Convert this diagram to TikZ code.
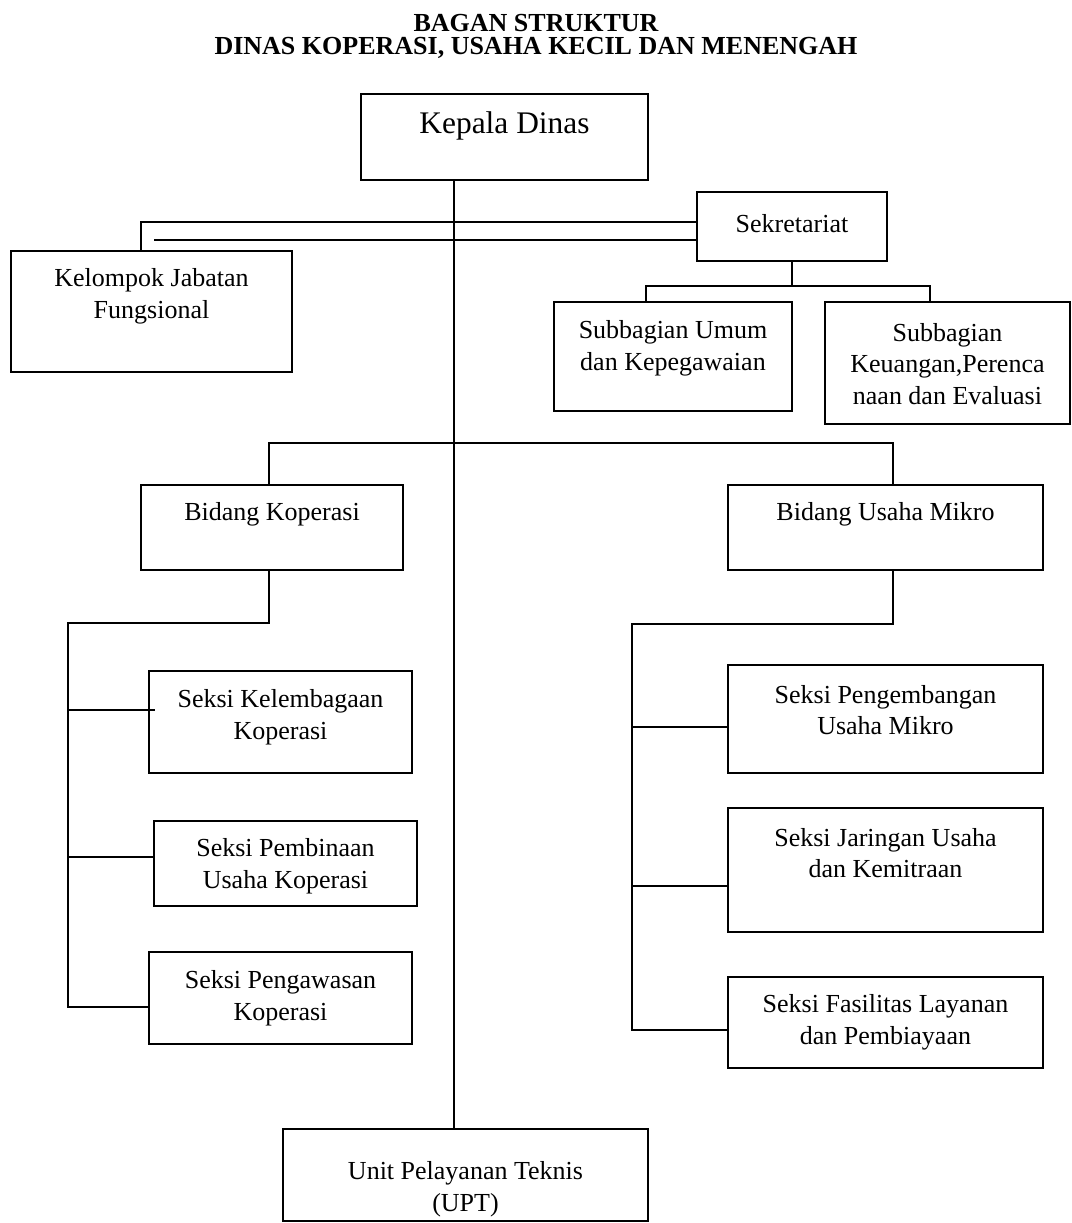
\documentclass[tikz,border=0pt]{standalone}
\usepackage{fontspec}
\setmainfont{Liberation Serif}
\usetikzlibrary{fit,positioning}
\tikzset{
  kotak/.style={draw, line width=0.9pt, inner sep=0pt},
  teks/.style={align=center, inner sep=0pt, font=\fontsize{12}{14.6}\selectfont},
  garis/.style={line width=0.9pt},
}
\begin{document}
\begin{tikzpicture}[x=0.4615pt,y=-0.4615pt]
\useasboundingbox (0,0) rectangle (1072,1223);
% judul
\node[teks, font=\bfseries\fontsize{12}{12}\selectfont] (judul1) at (536,23) {BAGAN STRUKTUR};
\node[teks, font=\bfseries\fontsize{12}{12}\selectfont] (judul2) at (536,48) {DINAS KOPERASI, USAHA KECIL DAN MENENGAH};
% kotak-kotak
\node[kotak, fit={(361,94) (648,180)}] (kadis) {};
\node[kotak, fit={(697,192) (887,261)}] (sekre) {};
\node[kotak, fit={(11,251) (292,372)}] (kjf) {};
\node[kotak, fit={(554,302) (792,411)}] (umum) {};
\node[kotak, fit={(825,302) (1070,424)}] (keu) {};
\node[kotak, fit={(141,485) (403,570)}] (bidkop) {};
\node[kotak, fit={(728,485) (1043,570)}] (bidum) {};
\node[kotak, fit={(149,671) (412,773)}] (lembaga) {};
\node[kotak, fit={(154,821) (417,906)}] (bina) {};
\node[kotak, fit={(149,952) (412,1044)}] (awas) {};
\node[kotak, fit={(728,665) (1043,773)}] (kembang) {};
\node[kotak, fit={(728,808) (1043,932)}] (jaring) {};
\node[kotak, fit={(728,977) (1043,1068)}] (fasil) {};
\node[kotak, fit={(283,1129) (648,1221)}] (upt) {};
% tulisan
\node[teks, font=\fontsize{14.5}{17}\selectfont] (tkadis) at (kadis.north |- 0,126) {Kepala Dinas};
\node[teks] (tsekre) at (sekre.north |- 0,224) {Sekretariat};
\node[teks] (tkjf) at (kjf.north |- 0,296) {Kelompok Jabatan\\Fungsional};
\node[teks] (tumum) at (umum.north |- 0,348) {Subbagian Umum\\dan Kepegawaian};
\node[teks] (tkeu) at (keu.north |- 0,364) {Subbagian\\Keuangan,Perenca\\naan dan Evaluasi};
\node[teks] (tbidkop) at (bidkop.north |- 0,514) {Bidang Koperasi};
\node[teks] (tbidum) at (bidum.north |- 0,514) {Bidang Usaha Mikro};
\node[teks] (tlembaga) at (lembaga.north |- 0,717) {Seksi Kelembagaan\\Koperasi};
\node[teks] (tbina) at (bina.north |- 0,866) {Seksi Pembinaan\\Usaha Koperasi};
\node[teks] (tawas) at (awas.north |- 0,998) {Seksi Pengawasan\\Koperasi};
\node[teks] (tkembang) at (kembang.north |- 0,710) {Seksi Pengembangan\\Usaha Mikro};
\node[teks] (tjaring) at (jaring.north |- 0,853) {Seksi Jaringan Usaha\\dan Kemitraan};
\node[teks] (tfasil) at (fasil.north |- 0,1022) {Seksi Fasilitas Layanan\\dan Pembiayaan};
\node[teks] (tupt) at (upt.north |- 0,1189) {Unit Pelayanan Teknis\\(UPT)};
% titik bantu
\coordinate (poros) at (454,0);
\coordinate (kjf1) at (141,222);
\coordinate (kjf2) at (154,240);
\coordinate (sek1) at (646,286);
\coordinate (sek2) at (930,286);
\coordinate (bid1) at (269,443);
\coordinate (bid2) at (893,443);
\coordinate (kop1) at (269,623);
\coordinate (kop2) at (68,623);
\coordinate (mik1) at (893,624);
\coordinate (mik2) at (632,624);
% garis
\draw[garis] (kadis.south -| poros) -- (upt.north -| poros); %garis tengah
\draw[garis] (sekre.west |- kjf1) -- (kjf1) -- (kjf1 |- kjf.north);
\draw[garis] (sekre.west |- kjf2) -- (kjf2);
\draw[garis] (sekre.south) -- (sekre.south |- sek1);
\draw[garis] (sek1 |- umum.north) -- (sek1) -- (sek2) -- (sek2 |- keu.north);
\draw[garis] (bid1 |- bidkop.north) -- (bid1) -- (bid2) -- (bid2 |- bidum.north);
\draw[garis] (kop1 |- bidkop.south) -- (kop1) -- (kop2) -- (kop2 |- 0,1007) -- (awas.west |- 0,1007);
\draw[garis] (kop2 |- 0,710) -- (155,710); %masuk sedikit
\draw[garis] (kop2 |- 0,857) -- (bina.west |- 0,857);
\draw[garis] (mik1 |- bidum.south) -- (mik1) -- (mik2) -- (mik2 |- 0,1030) -- (fasil.west |- 0,1030);
\draw[garis] (mik2 |- 0,727) -- (kembang.west |- 0,727);
\draw[garis] (mik2 |- 0,886) -- (jaring.west |- 0,886);
\end{tikzpicture}
\end{document}
